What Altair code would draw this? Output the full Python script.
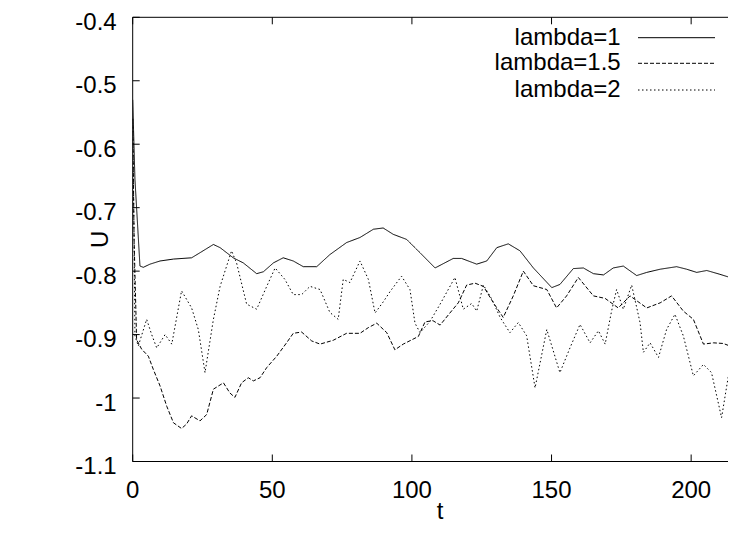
import altair as alt
import pandas as pd

# ---- data ----
labels = ["lambda=1", "lambda=1.5", "lambda=2"]

t_l1 = [0, 0.8, 2.6, 3.8, 6.2, 9.8, 14.6, 21.1, 24.1, 28.9, 31.3, 36.0, 39.6, 44.4, 46.8,
        50.4, 53.9, 57.5, 61.1, 65.9, 70.6, 76.6, 81.4, 86.2, 89.7, 93.3, 98.1, 102.9,
        108.3, 114.8, 117.8, 123.2, 126.8, 130.4, 134.5, 138.7, 143.5, 150.1, 153.0,
        157.8, 161.4, 165.0, 168.6, 172.1, 175.7, 180.5, 184.1, 188.9, 194.8, 198.4,
        202.0, 205.6, 210.3, 216.1, 220]
u_l1 = [-0.53, -0.655, -0.792, -0.794, -0.789, -0.784, -0.781, -0.779, -0.771, -0.758,
        -0.763, -0.779, -0.787, -0.804, -0.801, -0.787, -0.779, -0.784, -0.793, -0.793,
        -0.774, -0.755, -0.747, -0.734, -0.732, -0.742, -0.750, -0.771, -0.795, -0.780,
        -0.780, -0.789, -0.784, -0.763, -0.757, -0.768, -0.795, -0.826, -0.821, -0.796,
        -0.795, -0.804, -0.806, -0.795, -0.792, -0.807, -0.802, -0.797, -0.793, -0.797,
        -0.802, -0.799, -0.805, -0.813, -0.815]

t_l15 = [0, 0.5, 1.4, 3.2, 5.6, 7.4, 9.8, 12.2, 14.6, 17.5, 19.3, 21.1, 24.1, 26.5, 28.9,
         32.5, 34.8, 36.6, 39.0, 41.4, 43.2, 45.6, 48.0, 51.6, 55.1, 57.5, 60.5, 64.1,
         67.1, 71.8, 76.6, 81.4, 84.4, 87.4, 91.0, 93.9, 96.9, 102.3, 104.7, 107.5, 110.1,
         113.6, 116.6, 119.6, 122.6, 125.6, 129.2, 132.7, 136.3, 139.9, 143.5, 148.3,
         151.8, 155.4, 159.6, 165.0, 169.2, 173.9, 178.1, 184.1, 188.9, 193.0, 197.2,
         200.8, 204.4, 208.0, 211.5, 215.7, 220]
u_l15 = [-0.56, -0.75, -0.908, -0.923, -0.934, -0.955, -0.981, -1.013, -1.039, -1.048,
         -1.041, -1.028, -1.036, -1.026, -0.986, -0.976, -0.992, -0.999, -0.976, -0.968,
         -0.973, -0.968, -0.952, -0.934, -0.913, -0.898, -0.896, -0.910, -0.915, -0.909,
         -0.898, -0.898, -0.889, -0.882, -0.897, -0.924, -0.915, -0.903, -0.880, -0.878,
         -0.885, -0.866, -0.850, -0.822, -0.819, -0.824, -0.850, -0.873, -0.839, -0.800,
         -0.823, -0.829, -0.858, -0.839, -0.810, -0.839, -0.843, -0.858, -0.839, -0.858,
         -0.850, -0.839, -0.863, -0.876, -0.915, -0.913, -0.914, -0.921, -0.920]

t_l2 = [0, 0.5, 0.8, 2.0, 5.0, 6.8, 8.6, 11.6, 14.0, 17.5, 21.1, 23.5, 25.9, 28.9, 31.3,
        35.4, 37.2, 40.8, 44.4, 48.0, 51.0, 54.5, 57.5, 60.5, 63.5, 67.1, 70.6, 73.6,
        75.4, 77.8, 81.4, 84.4, 86.8, 89.8, 92.2, 96.3, 99.3, 101.1, 102.9, 106.5, 110.1,
        115.4, 118.4, 121.4, 123.2, 125.6, 128.6, 131.6, 135.1, 138.1, 141.1, 144.1,
        148.3, 153.0, 156.6, 160.2, 163.8, 166.8, 169.2, 171.5, 173.3, 175.7, 178.7,
        181.7, 182.9, 185.3, 188.3, 191.2, 194.2, 197.2, 200.8, 204.4, 207.3, 210.9,
        213.9, 216.1, 220]
u_l2 = [-0.56, -0.75, -0.902, -0.918, -0.876, -0.900, -0.921, -0.900, -0.915, -0.831,
        -0.858, -0.892, -0.960, -0.876, -0.824, -0.768, -0.787, -0.852, -0.860, -0.824,
        -0.795, -0.813, -0.837, -0.837, -0.824, -0.829, -0.865, -0.876, -0.813, -0.818,
        -0.784, -0.813, -0.866, -0.848, -0.832, -0.808, -0.829, -0.882, -0.897, -0.879,
        -0.852, -0.810, -0.860, -0.851, -0.863, -0.822, -0.844, -0.873, -0.897, -0.881,
        -0.902, -0.984, -0.892, -0.960, -0.921, -0.884, -0.913, -0.894, -0.915, -0.863,
        -0.829, -0.860, -0.822, -0.881, -0.928, -0.913, -0.936, -0.892, -0.868, -0.902,
        -0.965, -0.947, -0.960, -1.031, -0.950, -0.897, -0.880]

x_ticks = [0, 50, 100, 150, 200]
x_tick_labels = ["0", "50", "100", "150", "200"]
y_ticks = [-1.1, -1.0, -0.9, -0.8, -0.7, -0.6, -0.5, -0.4]
y_tick_labels = ["-1.1", "-1", "-0.9", "-0.8", "-0.7", "-0.6", "-0.5", "-0.4"]
x_title = "t"
y_title = "U"

# ---- layout / style ----
W, H = 595.3, 444.2
FONT = "Liberation Sans"
FS = 24
TICK = 7
dash_styles = [[1, 0], [4, 2], [1.5, 2.5]]

df = pd.concat([
    pd.DataFrame({"t": t_l1, "U": u_l1, "series": labels[0]}),
    pd.DataFrame({"t": t_l15, "U": u_l15, "series": labels[1]}),
    pd.DataFrame({"t": t_l2, "U": u_l2, "series": labels[2]}),
], ignore_index=True)

xs = alt.Scale(domain=[0, 213.2], nice=False, zero=False)
ys = alt.Scale(domain=[-1.1, -0.4], nice=False, zero=False)

lines = alt.Chart(df).mark_line(color="black", strokeWidth=1, clip=True).encode(
    x=alt.X("t:Q", scale=xs, axis=None),
    y=alt.Y("U:Q", scale=ys, axis=None),
    strokeDash=alt.StrokeDash("series:N", scale=alt.Scale(domain=labels, range=dash_styles),
                              legend=None),
)

xt = pd.DataFrame({"v": x_ticks, "lab": x_tick_labels})
yt = pd.DataFrame({"v": y_ticks, "lab": y_tick_labels})
one = pd.DataFrame({"a": [0]})

rule = dict(color="black", strokeWidth=1)
bottom_ticks = alt.Chart(xt).mark_rule(**rule).encode(
    x=alt.X("v:Q", scale=xs, axis=None), y=alt.value(H - TICK), y2=alt.value(H))
top_ticks = alt.Chart(xt).mark_rule(**rule).encode(
    x=alt.X("v:Q", scale=xs, axis=None), y=alt.value(0), y2=alt.value(TICK))
left_ticks = alt.Chart(yt).mark_rule(**rule).encode(
    y=alt.Y("v:Q", scale=ys, axis=None), x=alt.value(0), x2=alt.value(TICK))
top_border = alt.Chart(one).mark_rule(**rule).encode(
    x=alt.value(0), x2=alt.value(W), y=alt.value(0))
bottom_border = alt.Chart(one).mark_rule(**rule).encode(
    x=alt.value(0), x2=alt.value(W), y=alt.value(H))
left_border = alt.Chart(one).mark_rule(**rule).encode(
    x=alt.value(0), y=alt.value(0), y2=alt.value(H))

x_labels = alt.Chart(xt).mark_text(
    font=FONT, fontSize=FS, color="black", align="center", baseline="top").encode(
    x=alt.X("v:Q", scale=xs, axis=None), y=alt.value(H + 17), text="lab:N")
y_labels = alt.Chart(yt).mark_text(
    font=FONT, fontSize=FS, color="black", align="right", baseline="alphabetic", dy=12.5).encode(
    y=alt.Y("v:Q", scale=ys, axis=None), x=alt.value(-16), text="lab:N")

x_title_mark = alt.Chart(pd.DataFrame({"lab": [x_title]})).mark_text(
    font=FONT, fontSize=FS, color="black", align="center", baseline="alphabetic").encode(
    x=alt.value(307.3), y=alt.value(H + 57.5), text="lab:N")
y_title_mark = alt.Chart(pd.DataFrame({"lab": [y_title]})).mark_text(
    font=FONT, fontSize=FS, color="black", align="center", baseline="middle", angle=270).encode(
    x=alt.value(-32), y=alt.value(H / 2), text="lab:N")

# legend (gnuplot style: label, then line sample)
leg_y = [20.4, 46.0, 72.7]
leg_layers = []
for lab, yy, dsh in zip(labels, leg_y, dash_styles):
    d = pd.DataFrame({"label": [lab]})
    leg_layers.append(alt.Chart(d).mark_text(
        align="right", baseline="middle", font=FONT, fontSize=FS, color="black").encode(
        x=alt.value(488), y=alt.value(yy), text="label:N"))
    leg_layers.append(alt.Chart(d).mark_rule(color="black", strokeWidth=1, strokeDash=dsh).encode(
        x=alt.value(505.3), x2=alt.value(582.3), y=alt.value(yy)))

chart = alt.layer(
    lines, bottom_ticks, top_ticks, left_ticks, top_border, bottom_border, left_border,
    x_labels, y_labels, x_title_mark, y_title_mark, *leg_layers
).properties(
    width=W, height=H,
    padding={"left": 124.7, "top": 9.3, "right": 0, "bottom": 64},
    autosize=alt.AutoSizeParams(type="none"),
    background="white",
).configure_view(stroke=None)

chart.save("out.html", embed_options={"renderer": "svg", "actions": False})
